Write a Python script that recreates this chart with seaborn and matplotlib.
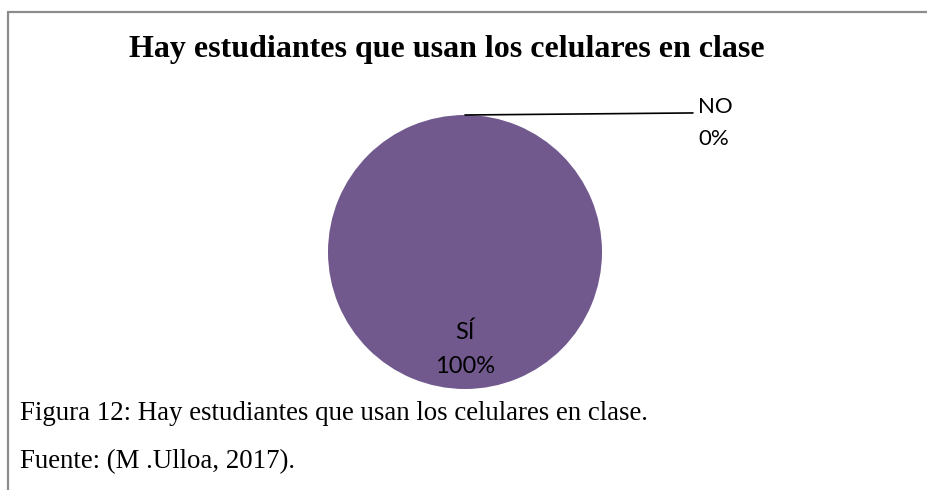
import matplotlib
matplotlib.use("Agg")
import matplotlib.pyplot as plt
import seaborn as sns
import numpy as np
from matplotlib.lines import Line2D

# ---- data ----
categories = ["SÍ", "NO"]
values = [100, 0]
percent_labels = ["100%", "0%"]
title_text = "Hay estudiantes que usan los celulares en clase"
caption_text = "Figura 12: Hay estudiantes que usan los celulares en clase."
source_text = "Fuente: (M .Ulloa, 2017)."

sns.set_theme(style="white")
plt.rcParams['font.family'] = ['Liberation Serif', 'DejaVu Sans']
plt.rcParams['text.color'] = 'black'

W, H = 928, 490
fig = plt.figure(figsize=(W / 100, H / 100), dpi=100)
fig.patch.set_facecolor("white")

# frame (top and left border)
border = "#8c8c8c"
fig.add_artist(Line2D([8 / W, 1.0], [1 - 12 / H, 1 - 12 / H], color=border, lw=1.6))
fig.add_artist(Line2D([8 / W, 8 / W], [1 - 12 / H, 0.0], color=border, lw=1.6))

# title
fig.text(447 / W, 1 - 50 / H, title_text, ha="center", va="center",
         fontsize=23, fontweight="bold", color="black",
         family=["Liberation Serif", "DejaVu Sans"])

# pie
cx, cy, r = 465, 252, 137
ax = fig.add_axes([(cx - r) / W, (H - cy - r) / H, 2 * r / W, 2 * r / H])
pie_color = "#71598e"
wedges, _ = ax.pie(values, colors=[pie_color, pie_color], startangle=90,
                   counterclock=False, radius=1,
                   wedgeprops=dict(linewidth=0))
ax.set_xlim(-1, 1)
ax.set_ylim(-1, 1)
ax.axis("off")

lab_font = ["Lato", "DejaVu Sans"]
for w, cat, pct in zip(wedges, categories, percent_labels):
    ang = np.deg2rad((w.theta1 + w.theta2) / 2)
    if abs(w.theta2 - w.theta1) > 1:
        # inside label
        x, y = 0.71 * np.cos(ang), 0.71 * np.sin(ang)
        ax.text(x, y, f"{cat}\n{pct}", ha="center", va="center",
                fontsize=17, family=lab_font, linespacing=1.8, color="black")
    else:
        # outside label with leader line
        x0, y0 = np.cos(ang), np.sin(ang)
        x1, y1 = x0 + 1.664, y0 + 0.015
        ax.plot([x0, x1], [y0, y1], color="black", lw=1.2, clip_on=False)
        ax.text(x1 + 0.036, y1 - 0.072, f"{cat}\n{pct}", ha="left", va="center",
                fontsize=16, family=lab_font, linespacing=1.77, color="black")

# caption
fig.text(20 / W, 1 - 413 / H, caption_text, ha="left", va="center",
         fontsize=19.4, color="black")
fig.text(20 / W, 1 - 462 / H, source_text, ha="left", va="center",
         fontsize=19.4, color="black")

fig.savefig("out.png", dpi=100, facecolor="white")
